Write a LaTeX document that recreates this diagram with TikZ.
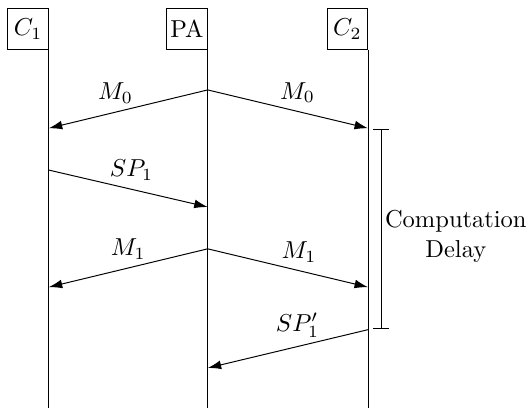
\documentclass[tikz,border=0pt]{standalone}
\usepackage{amsmath}
\usetikzlibrary{arrows.meta}

\begin{document}
\begin{tikzpicture}[
    party/.style={draw, minimum width=.58cm, minimum height=.59cm, inner sep=1pt, anchor=south east},
    msg/.style={-{Latex[length=5.5pt,width=3.6pt]}}
]
\useasboundingbox (0,0) rectangle (7.59,-5.88);

\node[party] (c1) at (0.70,-0.72) {$C_1$};
\node[party] (pa) at (2.98,-0.72) {PA};
\node[party] (c2) at (5.28,-0.72) {$C_2$};

\coordinate (c1-end) at (0.70,-5.85);
\coordinate (pa-end) at (2.98,-5.85);
\coordinate (c2-end) at (5.28,-5.85);
\draw (c1.south east) -- (c1-end);
\draw (pa.south east) -- (pa-end);
\draw (c2.south east) -- (c2-end);

% M_0 broadcast
\coordinate (pa-m0) at (2.98,-1.29);
\coordinate (c1-m0) at (0.70,-1.84);
\coordinate (c2-m0) at (5.28,-1.84);
\draw[msg] (pa-m0) -- (c1-m0) node[pos=.58, above] {$M_0$};
\draw[msg] (pa-m0) -- (c2-m0) node[pos=.56, above] {$M_0$};

% SP_1 from C_1
\coordinate (c1-sp) at (0.70,-2.44);
\coordinate (pa-sp) at (2.98,-2.97);
\draw[msg] (c1-sp) -- (pa-sp) node[pos=.52, above] {$SP_1$};

% M_1 broadcast
\coordinate (pa-m1) at (2.98,-3.57);
\coordinate (c1-m1) at (0.70,-4.12);
\coordinate (c2-m1) at (5.28,-4.12);
\draw[msg] (pa-m1) -- (c1-m1) node[pos=.5, above] {$M_1$};
\draw[msg] (pa-m1) -- (c2-m1) node[pos=.57, above] {$M_1$};

% late SP_1' from C_2
\coordinate (c2-sp) at (5.28,-4.73);
\coordinate (pa-sp2) at (2.98,-5.28);
\draw[msg] (c2-sp) -- (pa-sp2) node[pos=.44, above] {$SP_1'$};

% delay bracket
\coordinate (delay-top) at (5.47,-1.85);
\coordinate (delay-bot) at (5.47,-4.72);
\draw[{Bar[width=6.5pt]}-{Bar[width=6.5pt]}] (delay-top) -- (delay-bot);
\node[align=center] (delay) at (6.54,-3.39) {Computation\\Delay};
\end{tikzpicture}
\end{document}
